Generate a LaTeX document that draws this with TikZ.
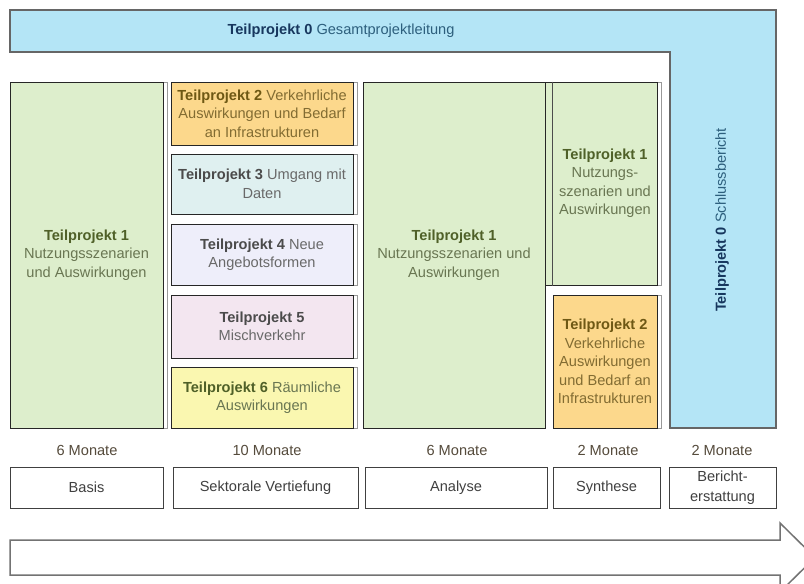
\documentclass[tikz,border=0pt]{standalone}
\usepackage{fontspec}
\setmainfont{Liberation Sans}
\usetikzlibrary{shadows}
\definecolor{bluefill}{RGB}{180,229,246}
\definecolor{greenfill}{RGB}{221,238,204}
\definecolor{orangefill}{RGB}{252,216,140}
\definecolor{cyanfill}{RGB}{223,240,240}
\definecolor{lavfill}{RGB}{238,238,250}
\definecolor{pinkfill}{RGB}{243,230,240}
\definecolor{yelfill}{RGB}{250,247,176}
\definecolor{olivebold}{RGB}{79,96,40}
\definecolor{olivetext}{RGB}{105,118,82}
\definecolor{brownbold}{RGB}{110,88,20}
\definecolor{browntext}{RGB}{130,108,50}
\definecolor{graybold}{RGB}{75,75,75}
\definecolor{graytext}{RGB}{105,105,105}
\definecolor{bluebold}{RGB}{23,55,94}
\definecolor{bluetext}{RGB}{45,95,125}
\definecolor{durtext}{RGB}{85,75,60}
\newcommand\tpb[2]{{\color{#1}\bfseries Teilprojekt #2}}
\begin{document}
\begin{tikzpicture}[x=1pt,y=-1pt,
  pbox/.style={draw=black!85, line width=1pt, inner sep=0pt, align=center,
    font=\fontsize{14.6}{18.5}\selectfont},
  shad/.style={copy shadow={shadow xshift=4pt, shadow yshift=0pt, fill=white, draw=gray!80, line width=0.8pt}},
  phase/.style={draw=black!75, line width=1pt, fill=white, inner sep=0pt, align=center,
    text=black!75, font=\fontsize{14.6}{19}\selectfont, minimum height=41pt},
  dur/.style={text=durtext, font=\fontsize{14.6}{18}\selectfont},
  ltext/.style={font=\fontsize{14.6}{18}\selectfont}]
\useasboundingbox (0,0) rectangle (804,584);
\clip (0,0) rectangle (804,584);
\fill[white] (0,0) rectangle (804,584);
% L-shaped Teilprojekt 0
\draw[fill=bluefill, draw=black!60, line width=1.2pt] (10,10) -- (776,10) -- (776,428) -- (670,428) -- (670,52) -- (10,52) -- cycle;
\node[ltext] (tp0a) at (341,31) {\tpb{bluebold}{0} \color{bluetext}Gesamtprojektleitung};
\node[ltext, rotate=90] (tp0b) at (722,220) {\tpb{bluebold}{0} \color{bluetext}Schlussbericht};
% Basis
\node[pbox, shad, fill=greenfill, minimum width=153pt, minimum height=346pt, text=olivetext] (b1) at (86.5,255)
  {\tpb{olivebold}{1}\\Nutzungsszenarien\\und Auswirkungen};
% Sektorale Vertiefung
\node[pbox, shad, fill=orangefill, minimum width=182pt, minimum height=63pt, text=browntext] (s2) at (262,113.5)
  {\tpb{brownbold}{2} Verkehrliche\\Auswirkungen und Bedarf\\an Infrastrukturen};
\node[pbox, shad, fill=cyanfill, minimum width=182pt, minimum height=60pt, text=graytext] (s3) at (262,184)
  {\tpb{graybold}{3} Umgang mit\\Daten};
\node[pbox, shad, fill=lavfill, minimum width=182pt, minimum height=61pt, text=graytext] (s4) at (262,254.5)
  {\tpb{graybold}{4} Neue\\Angebotsformen};
\node[pbox, shad, fill=pinkfill, minimum width=182pt, minimum height=63pt, text=graytext] (s5) at (262,326.5)
  {\tpb{graybold}{5}\\Mischverkehr};
\node[pbox, shad, fill=yelfill, minimum width=182pt, minimum height=61pt, text=olivetext] (s6) at (262,397.5)
  {\tpb{olivebold}{6} Räumliche\\Auswirkungen};
% Analyse
\node[pbox, fill=greenfill, minimum width=182pt, minimum height=346pt, text=olivetext] (a1) at (454,255)
  {\tpb{olivebold}{1}\\Nutzungsszenarien und\\Auswirkungen};
% Synthese
\node[pbox, shad, fill=greenfill, minimum width=112pt, minimum height=203pt, text=olivetext] (y1) at (601,183.5)
  {\hspace*{8pt}\begin{tabular}{@{}c@{}}\tpb{olivebold}{1}\\Nutzungs-\\szenarien und\\Auswirkungen\end{tabular}};
\draw[black!70, line width=0.8pt] ([xshift=8pt]y1.north west) -- ([xshift=8pt]y1.south west);
\node[pbox, shad, fill=orangefill, minimum width=104pt, minimum height=133pt, text=browntext] (y2) at (605,361.5)
  {\tpb{brownbold}{2}\\Verkehrliche\\Auswirkungen\\und Bedarf an\\Infrastrukturen};
% durations
\node[dur] (d1) at (87,450) {6 Monate};
\node[dur] (d2) at (267,450) {10 Monate};
\node[dur] (d3) at (457,450) {6 Monate};
\node[dur] (d4) at (608,450) {2 Monate};
\node[dur] (d5) at (722,450) {2 Monate};
% phases
\node[phase, minimum width=153pt] (p1) at (86.5,487.5) {Basis};
\node[phase, minimum width=185pt] (p2) at (265.5,487.5) {Sektorale Vertiefung};
\node[phase, minimum width=182pt] (p3) at (456,487.5) {Analyse};
\node[phase, minimum width=107pt] (p4) at (606.5,487.5) {Synthese};
\node[phase, minimum width=107pt, font=\fontsize{14.6}{20}\selectfont] (p5) at (722.5,487.5) {Bericht-\\erstattung};
% time arrow
\draw[draw=black!55, line width=1.5pt, fill=white, line join=miter]
  (10,540) -- (780,540) -- (780,523) -- (815,557.5) -- (780,592) -- (780,575) -- (10,575) -- cycle;
\end{tikzpicture}
\end{document}
